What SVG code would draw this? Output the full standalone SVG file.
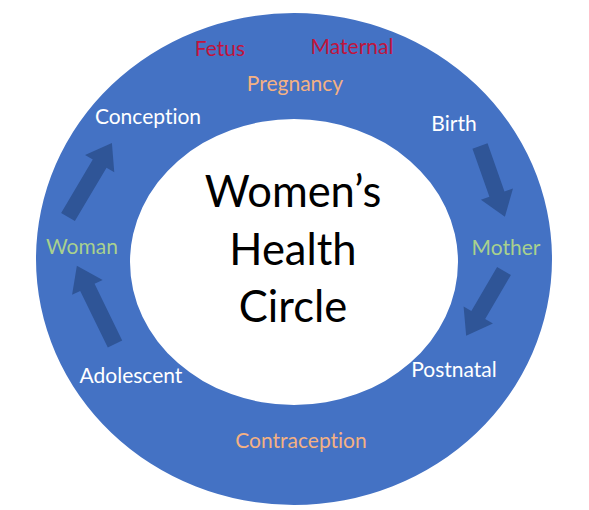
<svg xmlns="http://www.w3.org/2000/svg" width="589" height="510" viewBox="0 0 589 510">
<style>
text{font-family:Lato,"Open Sans","Liberation Sans",sans-serif;text-anchor:middle;font-variant-ligatures:none}
.lbl{font-size:21px;fill:#ffffff}
.grn{font-size:21px;fill:#a9d18e}
.org{font-size:21px;fill:#f4b183}
.red{font-size:21px;fill:#c0143c}
.title{font-size:43.5px;fill:#000000}
.arr{fill:#2f5597}
</style>
<g id="ring">
<path fill="#4472c4" fill-rule="evenodd" d="M36,259a258,246 0 1,0 516,0a258,246 0 1,0 -516,0Z M130,262a164,143 0 1,0 328,0a164,143 0 1,0 -328,0Z"/>
</g>
<g id="title">
<text class="title" x="293" y="207">Women’s</text>
<text class="title" x="293" y="265">Health</text>
<text class="title" x="293" y="322">Circle</text>
</g>
<g id="node-conception"><text class="lbl" x="148" y="124">Conception</text></g>
<g id="node-birth"><text class="lbl" x="454" y="131">Birth</text></g>
<g id="node-mother"><text class="grn" x="506" y="255">Mother</text></g>
<g id="node-postnatal"><text class="lbl" x="454" y="377">Postnatal</text></g>
<g id="node-contraception"><text class="org" x="301" y="448">Contraception</text></g>
<g id="node-adolescent"><text class="lbl" x="131" y="383">Adolescent</text></g>
<g id="node-woman"><text class="grn" x="82" y="254">Woman</text></g>
<g id="node-pregnancy"><text class="org" x="295" y="91">Pregnancy</text></g>
<g id="node-fetus"><text class="red" x="220" y="56">Fetus</text></g>
<g id="node-maternal"><text class="red" x="352" y="54">Maternal</text></g>
<g id="connectors">
<polygon class="arr" transform="translate(68,217) rotate(-59.3)" points="0,-8 62,-8 62,-17 86,0 62,17 62,8 0,8"/>
<polygon class="arr" transform="translate(115,344) rotate(244)" points="0,-8 63,-8 63,-17 87,0 63,17 63,8 0,8"/>
<polygon class="arr" transform="translate(480,146) rotate(70.6)" points="0,-8 51,-8 51,-17 75,0 51,17 51,8 0,8"/>
<polygon class="arr" transform="translate(504,271) rotate(120.3)" points="0,-8 51,-8 51,-17 75,0 51,17 51,8 0,8"/>
</g>
</svg>
